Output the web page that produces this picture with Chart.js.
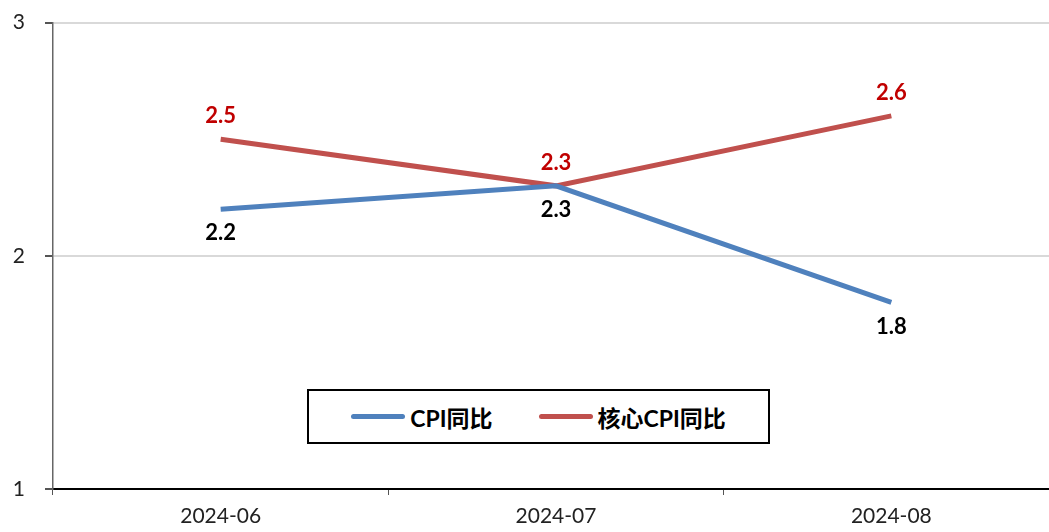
<!DOCTYPE html>
<html>
<head>
<meta charset="utf-8">
<script src="https://cdn.jsdelivr.net/npm/chart.js@4/dist/chart.umd.min.js"></script>
<style>
    html, body { margin: 0; padding: 0; background: #fff; overflow: hidden; }
    /* canvas is a bit larger than the window so the plot can run off the right edge like the original */
    #wrap { position: relative; top: -10px; width: 1060px; height: 542px; }
    #legend {
        position: absolute; left: 307px; top: 399px; width: 459px; height: 51px;
        border: 2px solid #000; background: #fff;
        display: flex; align-items: center; justify-content: center; gap: 46px;
        font-family: Lato, "Noto Sans CJK SC", sans-serif; font-weight: bold; font-size: 23px;
    }
    .item { display: flex; align-items: center; }
    .swatch { width: 54px; height: 5px; border-radius: 3px; margin-right: 5px; }
</style>
</head>
<body>
<div id="wrap">
    <canvas id="chart" width="1060" height="542"></canvas>
    <div id="legend"></div>
</div>
<script>
// data
const months = ['2024-06', '2024-07', '2024-08'];
const cpiYoY = [2.2, 2.3, 1.8];
const coreCpiYoY = [2.5, 2.3, 2.6];
const yTicks = [1, 2, 3];

const FONT = 'Lato, "Noto Sans CJK SC", sans-serif';

// value labels: red above the core line, black below the CPI line
const pointLabels = {
    id: 'pointLabels',
    afterDatasetsDraw(chart) {
        const ctx = chart.ctx;
        ctx.save();
        ctx.font = 'bold 22px ' + FONT;
        ctx.textAlign = 'center';
        ctx.textBaseline = 'middle';
        chart.data.datasets.forEach((ds, i) => {
            const meta = chart.getDatasetMeta(i);
            meta.data.forEach((pt, j) => {
                ctx.fillStyle = ds.labelColor;
                ctx.fillText(ds.data[j].toFixed(1), pt.x, pt.y + ds.labelOffset);
            });
        });
        ctx.restore();
    }
};

const chart = new Chart(document.getElementById('chart').getContext('2d'), {
    type: 'line',
    data: {
        labels: months,
        datasets: [{
            label: 'CPI同比',
            data: cpiYoY,
            borderColor: '#4F81BD',
            borderWidth: 5,
            pointRadius: 0,
            labelColor: '#000000',
            labelOffset: 24
        }, {
            label: '核心CPI同比',
            data: coreCpiYoY,
            borderColor: '#C0504D',
            borderWidth: 5,
            pointRadius: 0,
            labelColor: '#C00000',
            labelOffset: -23
        }]
    },
    options: {
        responsive: false,
        animation: false,
        layout: { padding: { top: 0, right: 1, left: 0, bottom: 0 } },
        plugins: {
            legend: { display: false },
            tooltip: { enabled: false }
        },
        scales: {
            x: {
                offset: true,
                grid: {
                    offset: true,
                    drawOnChartArea: false,
                    drawTicks: true,
                    tickLength: 6,
                    tickColor: '#555'
                },
                border: { color: '#000', width: 2 },
                ticks: { color: '#222', font: { family: FONT, size: 21 }, padding: 9 },
                afterFit: scale => { scale.height = 43; }
            },
            y: {
                min: 1,
                max: 3,
                afterBuildTicks: scale => { scale.ticks = yTicks.map(v => ({ value: v })); },
                grid: { color: '#d9d9d9', tickColor: '#555', tickLength: 8, lineWidth: 2 },
                border: { color: '#666', width: 1.5 },
                ticks: { color: '#222', font: { family: FONT, size: 21 }, padding: 20 },
                afterFit: scale => { scale.width = 53; }
            }
        }
    },
    plugins: [pointLabels]
});

// legend box inside the plot, built from the datasets
document.getElementById('legend').innerHTML = chart.data.datasets.map(ds => `
    <div class="item">
        <div class="swatch" style="background:${ds.borderColor}"></div>
        <span>${ds.label}</span>
    </div>
`).join('');
</script>
</body>
</html>
